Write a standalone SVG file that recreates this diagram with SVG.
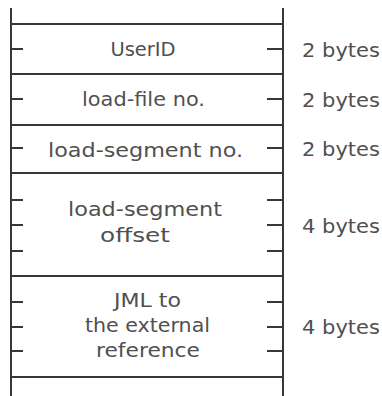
<svg xmlns="http://www.w3.org/2000/svg" width="382" height="396" viewBox="0 0 382 396">
<style>
.ln{stroke:#3b3631;stroke-width:2;fill:none}
.t{font-family:"DejaVu Sans","Liberation Sans",sans-serif;font-size:19.5px;fill:#505050}
.m{text-anchor:middle}
</style>
<rect width="382" height="396" fill="#ffffff"/>
<g id="connectors">
<path class="ln" d="M11,8V396M283,8V396"/>
<path class="ln" d="M11,24H283M11,74H283M11,125H283M11,173H283M11,276H283M11,377H283"/>
<path class="ln" d="M11,49H23M11,99H23M11,148H23M11,200H23M11,225H23M11,251H23M11,302H23M11,327H23M11,351H23"/>
<path class="ln" d="M267,49H283M267,99H283M267,148H283M267,200H283M267,225H283M267,251H283M267,302H283M267,327H283M267,351H283"/>
</g>
<g id="userid">
<text class="t m" x="143" y="56">UserID</text>
<text class="t" x="302" y="57" textLength="78" lengthAdjust="spacingAndGlyphs">2 bytes</text>
</g>
<g id="loadfile">
<text class="t" x="82" y="106" textLength="123" lengthAdjust="spacingAndGlyphs">load-file no.</text>
<text class="t" x="302" y="107" textLength="78" lengthAdjust="spacingAndGlyphs">2 bytes</text>
</g>
<g id="loadsegment">
<text class="t" x="48" y="157" textLength="195" lengthAdjust="spacingAndGlyphs">load-segment  no.</text>
<text class="t" x="302" y="156" textLength="78" lengthAdjust="spacingAndGlyphs">2 bytes</text>
</g>
<g id="offset">
<text class="t" x="68" y="216" textLength="154" lengthAdjust="spacingAndGlyphs">load-segment</text>
<text class="t" x="100" y="242" textLength="70" lengthAdjust="spacingAndGlyphs">offset</text>
<text class="t" x="302" y="233" textLength="78" lengthAdjust="spacingAndGlyphs">4 bytes</text>
</g>
<g id="jml">
<text class="t" x="114" y="307" textLength="67" lengthAdjust="spacingAndGlyphs">JML to</text>
<text class="t" x="85" y="332" textLength="125" lengthAdjust="spacingAndGlyphs">the external</text>
<text class="t" x="96" y="357" textLength="104" lengthAdjust="spacingAndGlyphs">reference</text>
<text class="t" x="302" y="334" textLength="78" lengthAdjust="spacingAndGlyphs">4 bytes</text>
</g>
</svg>
